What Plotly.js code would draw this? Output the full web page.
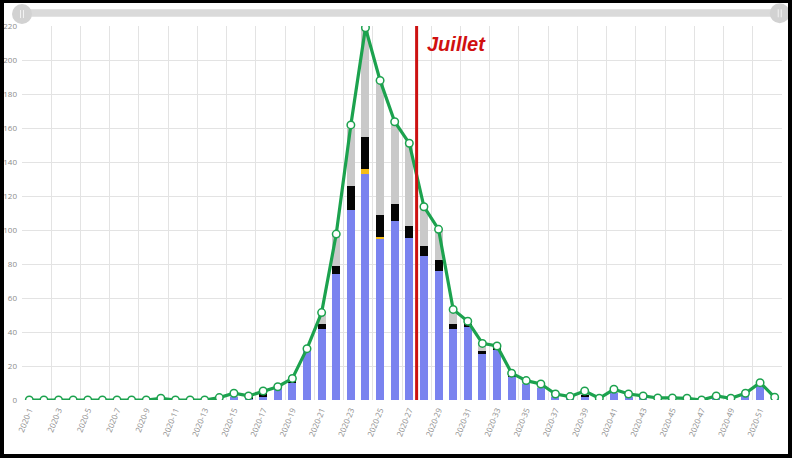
<!DOCTYPE html>
<html><head><meta charset="utf-8">
<script src="https://cdn.plot.ly/plotly-3.0.1.min.js"></script>
<style>
html,body{margin:0;padding:0;background:#000;width:792px;height:458px;overflow:hidden}
#chart{position:absolute;left:4px;top:3px;width:784px;height:451px;background:#fff}
</style></head><body><div id="chart"></div><script>
const weekLabels = ["2020-1","2020-2","2020-3","2020-4","2020-5","2020-6","2020-7","2020-8","2020-9","2020-10",
  "2020-11","2020-12","2020-13","2020-14","2020-15","2020-16","2020-17","2020-18","2020-19","2020-20",
  "2020-21","2020-22","2020-23","2020-24","2020-25","2020-26","2020-27","2020-28","2020-29","2020-30",
  "2020-31","2020-32","2020-33","2020-34","2020-35","2020-36","2020-37","2020-38","2020-39","2020-40",
  "2020-41","2020-42","2020-43","2020-44","2020-45","2020-46","2020-47","2020-48","2020-49","2020-50",
  "2020-51","2020-52"];
const total  = [0,0,0,0,0,0,0,0,0,1, 0,0,0,1.4,4,2.4,5.3,7.8,12.7,30.2,
  51.4,97.6,161.8,219,188,163.7,151,113.7,100.4,53.3, 46.3,33.3,31.8,15.8,11.4,9.4,3.5,2,5.3,1,
  6.3,3.5,2.4,1.2,1.2,1,0,2.4,1,4, 10.2,1.6];
const blue   = [0,0,0,0,0,0,0,0,0,0, 0,0,0,0,2,0.5,2,7.5,10,29.5,
  42,74,112,133,94.5,105.5,95.5,85,76,42, 43,27,29.5,13.7,9.4,7,2,1,2,0,
  4,2,1,0.5,0.5,0.5,0,1,0.5,3, 8.2,1.5];
const yellow = [0,0,0,0,0,0,0,0,0,0, 0,0,0,0,0,0,0,0,0,0,
  0,0,0,3,1.5,0,0,0,0,0, 0,0,0,0,0,0,0,0,0,0,
  0,0,0,0,0,0,0,0,0,0, 0,0];
const black  = [0,0,0,0,0,0,0,0,0,0, 0,0,0,1,0,1.5,2,0,1.5,0,
  2.5,5,14,18.5,13,10,7,5.5,6.5,3, 1.5,2,0.8,0.8,0,0,0,0,1,0,
  0,0,0,0,0,0,0,0,0,0, 0,0];
const gray   = [0,0,0,0,0,0,0,0,0,1, 0,0,0,0.4,2,0.4,1.3,0.3,1.2,0.7,
  6.9,18.6,35.8,64.5,79,48.2,48.5,23.2,17.9,8.3, 1.8,4.3,1.5,1.3,2,2.4,1.5,1,2.3,1,
  2.3,1.5,1.4,0.7,0.7,0.5,0,1.4,0.5,1, 2,0.1];
const yTicks = [0,20,40,60,80,100,120,140,160,180,200,220];
const markerWeek = 27.5;
const markerLabel = "Juillet";

const weekPos = weekLabels.map((_, i) => i + 1);
const tickVals = weekPos.filter(w => w % 2 === 1);
const tickText = tickVals.map(w => weekLabels[w - 1]);

const barW = 0.55;
function bar(y, color) {
  return {type:'bar', x: weekPos, y: y, width: barW, marker:{color: color, line:{width:0}}, hoverinfo:'skip'};
}
const traces = [
  bar(blue, '#7a83ef'),
  bar(yellow, '#f6bd16'),
  bar(black, '#050505'),
  bar(gray, '#c9c9c9'),
  {type:'scatter', mode:'lines+markers', x: weekPos, y: total,
   line:{color:'#1ca24e', width:3.2},
   marker:{size:7.5, color:'#ffffff', line:{color:'#1ca24e', width:1.5}}, hoverinfo:'skip'}
];

const tickFont = {family:'"Open Sans", Lato, sans-serif', size:8, color:'#8c8c8c'};
const layout = {
  width:784, height:451,
  margin:{l:18, r:6, t:23, b:54},
  paper_bgcolor:'#ffffff', plot_bgcolor:'#ffffff',
  showlegend:false, barmode:'stack',
  xaxis:{type:'linear', range:[0.5, 52.5], tickmode:'array', tickvals: tickVals, ticktext: tickText,
    tickangle:-68, tickfont: tickFont, showgrid:false, zeroline:false, showline:false, ticks:'',
    ticklabelstandoff:3,
    minor:{tick0:0.5, dtick:2, showgrid:true, gridcolor:'#e3e3e3', gridwidth:1, ticks:''}},
  yaxis:{range:[0, 220], tickmode:'array', tickvals: yTicks, tickfont: tickFont,
    showgrid:true, gridcolor:'#e3e3e3', gridwidth:1, zeroline:false, showline:false, ticks:'',
    ticklabelstandoff:4},
  shapes:[
    {type:'rect', xref:'paper', yref:'paper', x0:-0.001, x1:0.999, y0:1.025, y1:1.045,
     fillcolor:'#dadada', line:{width:0}, layer:'above'},
    {type:'circle', xref:'paper', yref:'paper', xsizemode:'pixel', ysizemode:'pixel',
     xanchor:0, yanchor:1.032, x0:-10, x1:10, y0:-10, y1:10, fillcolor:'#d2d2d2', line:{width:0}},
    {type:'circle', xref:'paper', yref:'paper', xsizemode:'pixel', ysizemode:'pixel',
     xanchor:0.997, yanchor:1.034, x0:-10, x1:10, y0:-10, y1:10, fillcolor:'#d2d2d2', line:{width:0}},
    {type:'line', xref:'paper', yref:'paper', xsizemode:'pixel', ysizemode:'pixel',
     xanchor:0, yanchor:1.032, x0:-1.5, x1:-1.5, y0:-4, y1:4, line:{color:'#f2f2f2', width:1}},
    {type:'line', xref:'paper', yref:'paper', xsizemode:'pixel', ysizemode:'pixel',
     xanchor:0, yanchor:1.032, x0:1.5, x1:1.5, y0:-4, y1:4, line:{color:'#f2f2f2', width:1}},
    {type:'line', xref:'paper', yref:'paper', xsizemode:'pixel', ysizemode:'pixel',
     xanchor:0.997, yanchor:1.034, x0:-1.5, x1:-1.5, y0:-4, y1:4, line:{color:'#f2f2f2', width:1}},
    {type:'line', xref:'paper', yref:'paper', xsizemode:'pixel', ysizemode:'pixel',
     xanchor:0.997, yanchor:1.034, x0:1.5, x1:1.5, y0:-4, y1:4, line:{color:'#f2f2f2', width:1}},
    {type:'line', xref:'x', yref:'paper', x0: markerWeek, x1: markerWeek, y0:0, y1:1,
     line:{color:'#cc1111', width:3}, layer:'above'}
  ],
  annotations:[
    {text: markerLabel, xref:'x', yref:'paper', x: markerWeek + 0.6, y:0.952, xanchor:'left', yanchor:'middle',
     showarrow:false, font:{family:'Arial, "Liberation Sans", sans-serif', size:20, color:'#d01010', weight:'bold', style:'italic'}}
  ]
};
Plotly.newPlot('chart', traces, layout, {displayModeBar:false, staticPlot:true});
</script></body></html>
